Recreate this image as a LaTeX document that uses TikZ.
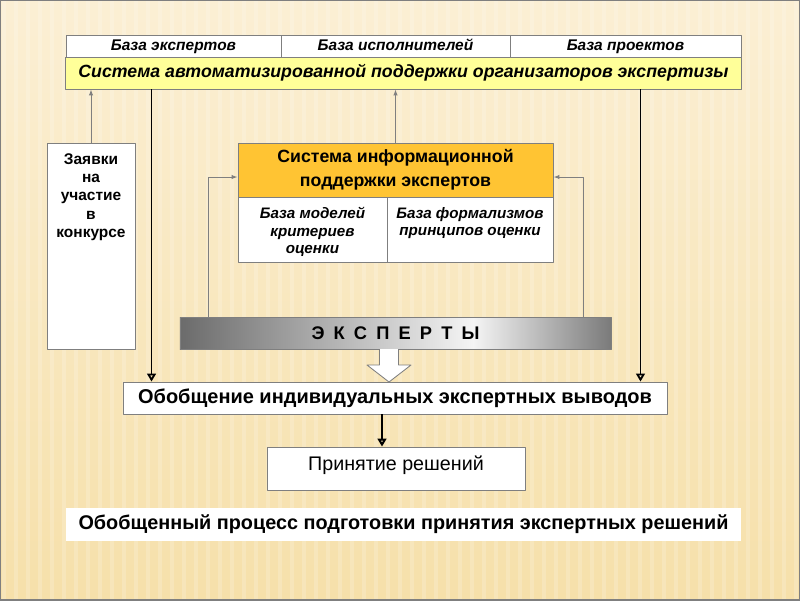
\documentclass[tikz,border=0pt]{standalone}
\usepackage{fontspec}
\setmainfont{Liberation Sans}
\usetikzlibrary{arrows.meta}
\definecolor{bgtop}{HTML}{FBEFD4}
\definecolor{bgbot}{HTML}{F6E0AA}
\definecolor{sysyellow}{HTML}{FFFF99}
\definecolor{infoorange}{HTML}{FFC433}
\definecolor{linegray}{HTML}{7F7F7F}
\pgfdeclarehorizontalshading{expshade}{100bp}{color(0bp)=(black!58); color(25bp)=(black!58); color(59bp)=(black!4); color(75bp)=(black!52); color(100bp)=(black!52)}

\begin{document}
\begin{tikzpicture}[
  x=0.025cm,
  y=-0.025cm,
  line join=round,
  box/.style={draw=linegray,line width=0.6pt,fill=white,inner sep=0pt,align=center},
  basecell/.style={box,minimum height=0.55cm,text height=1.6ex,text depth=0.35ex,
    font=\fontsize{11}{13}\selectfont\bfseries\itshape},
  thinarrow/.style={draw=linegray,line width=0.7pt,-{Latex[length=1.5mm,width=1.1mm]}},
  heavy/.style={draw=black,line width=1.3pt,-{Triangle[open,length=2mm,width=2.2mm]}}
]
  \useasboundingbox (0,0) rectangle (800,600);

  % Background with faint vertical grain.
  \shade[top color=bgtop,bottom color=bgbot] (0,0) rectangle (800,600);
  \foreach \sx in {4,16,...,800} {
    \draw[white,line width=2.5pt,opacity=0.18] (\sx,0) -- (\sx,600);
  }
  \draw[linegray,line width=1pt] (0,0) rectangle (800,600);

  % Top table.
  \node[basecell,minimum width=5.375cm] (bexp) at (173.5,46) {База экспертов};
  \node[basecell,minimum width=5.725cm] (bisp) at (395.5,46) {База исполнителей};
  \node[basecell,minimum width=5.775cm] (bproj) at (625.5,46) {База проектов};
  \node[box,fill=sysyellow,minimum width=16.875cm,minimum height=0.8cm,
    font=\fontsize{12.6}{15}\selectfont\bfseries\itshape] (sys) at (403.5,73)
    {Система автоматизированной поддержки организаторов экспертизы};

  % Applications box.
  \node[box,font=\fontsize{11}{13}\selectfont\bfseries] (zayav) at (91,246)
    {\parbox[c][5.15cm][t]{2.2cm}{\centering\vspace*{2.6mm}Заявки\\на\\участие\\в\\конкурсе}};

  % Expert information system.
  \node[box,fill=infoorange,minimum width=7.875cm,minimum height=1.35cm,
    font=\fontsize{12.6}{17}\selectfont\bfseries] (info) at (395.5,170)
    {Система информационной\\поддержки экспертов};
  \node[box,font=\fontsize{10.8}{12.5}\selectfont\bfseries\itshape] (bmod) at (312.5,229.5)
    {\parbox[c][1.625cm][t]{3.725cm}{\centering\vspace*{2.6mm}База моделей\\критериев\\оценки}};
  \node[box,font=\fontsize{10.8}{12.5}\selectfont\bfseries\itshape] (bform) at (470,229.5)
    {\parbox[c][1.625cm][t]{4.15cm}{\centering\vspace*{2.6mm}База формализмов\\принципов оценки}};

  % Experts bar.
  \node[draw=linegray,line width=0.6pt,shading=expshade,minimum width=10.775cm,minimum height=0.8cm,
    font=\fontsize{13}{15}\selectfont\bfseries] (exp) at (395.5,333)
    {\spaceskip=0.5em Э К С П Е Р Т Ы};

  % Lower boxes.
  \node[box,minimum width=13.6cm,minimum height=0.8cm,
    font=\fontsize{14.2}{16}\selectfont\bfseries] (obob) at (395,398)
    {Обобщение индивидуальных экспертных выводов};
  \node[box,minimum width=6.45cm,minimum height=1.075cm,
    font=\fontsize{14}{16}\selectfont] (prin) at (396,468.5)
    {\raisebox{2.5mm}{Принятие решений}};
  \node[fill=white,inner sep=0pt,minimum width=16.875cm,minimum height=0.825cm,
    font=\fontsize{14.1}{16}\selectfont\bfseries] (title) at (403.5,524.5)
    {Обобщенный процесс подготовки принятия экспертных решений};

  % Connectors.
  \draw[thinarrow] (zayav.north) -- (zayav.north |- sys.south);
  \draw[thinarrow,{Latex[length=1.5mm,width=1.1mm]}-] (sys.south -| info.north) -- (info.north);
  \draw[heavy] ([xshift=0.725cm]obob.north west |- sys.south) -- ([xshift=0.725cm]obob.north west);
  \draw[heavy] ([xshift=-0.675cm]obob.north east |- sys.south) -- ([xshift=-0.675cm]obob.north east);
  \draw[thinarrow,{Latex[length=1.5mm,width=1.1mm]}-] ([yshift=-0.175cm]info.west)
    -| ([xshift=0.725cm]exp.north west);
  \draw[thinarrow,{Latex[length=1.5mm,width=1.1mm]}-] ([yshift=-0.175cm]info.east)
    -| ([xshift=-0.7cm]exp.north east);
  \draw[heavy,line width=2pt] ([xshift=-0.35cm]prin.north |- obob.south) -- ([xshift=-0.35cm]prin.north);

  % Hollow block arrow from experts to summary.
  \draw[linegray,fill=white,line width=0.6pt] (379.5,349) -- (379.5,365) -- (367,365) -- (389,382)
    -- (411,365) -- (398.5,365) -- (398.5,349);
\end{tikzpicture}
\end{document}
